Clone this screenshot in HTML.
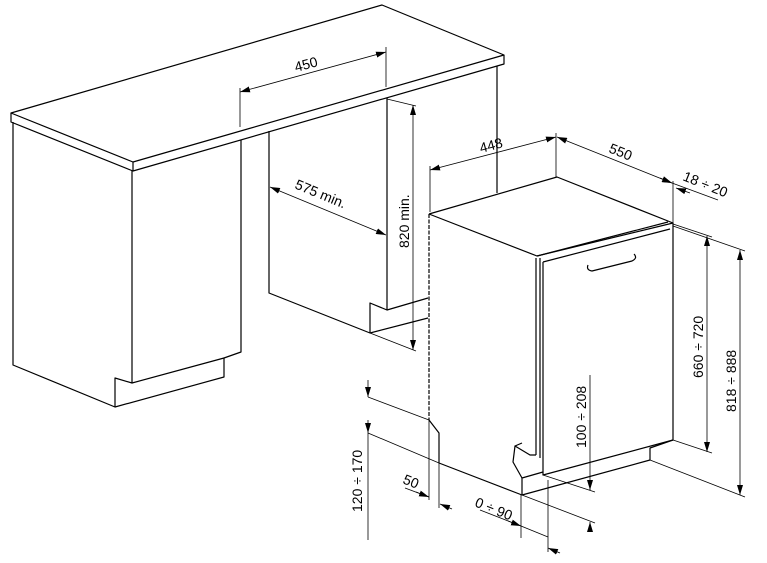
<!DOCTYPE html>
<html><head><meta charset="utf-8"><style>
html,body{margin:0;padding:0;background:#fff;width:767px;height:563px;overflow:hidden}
svg{display:block}
text{font-family:"Liberation Sans",sans-serif;font-size:14px;fill:#000}
</style></head><body>
<svg width="767" height="563" viewBox="0 0 767 563" xmlns="http://www.w3.org/2000/svg">
<defs>
<marker id="a" viewBox="0 0 10 6" refX="10" refY="3" markerWidth="10" markerHeight="6" orient="auto-start-reverse" markerUnits="userSpaceOnUse"><path d="M0,0L10,3L0,6z" fill="#000"/></marker>
</defs>
<g fill="none" stroke="#000" stroke-width="1.2" stroke-linejoin="round">
<path d="M11,113 L382,5 L504,55 L133,162 Z"/>
<path d="M133,162 L133,171 L504,64 L504,55"/>
<path d="M11,113 L11,122 L133,171"/>
<path d="M13,122 L13,365 L115,407 L115,378 L132,383 L132,171"/>
<path d="M115,407 L224,377 L224,358 L241,352 L241,140"/>
<path d="M132,383 L224,358"/>
<path d="M269,131 L269,293 L370,333 L370,303 L387,310 L387,98"/>
<path d="M387,310 L428,298"/>
<path d="M370,333 L428,318"/>
<path d="M497,66 L497,193"/>
<path d="M429,214 L557,177 L673,223 L673,440 L650,448 L650,460 L522,495 L439,463 L439,433 L429,420"/>
<path d="M429,214 L537,256 L673,223"/>
<path d="M429,214 L429,420" stroke-dasharray="4,1.5"/>
<path d="M536,258 L536,455 M540,258 L540,458"/>
<path d="M537,256 L668,222 M543,262 L670,229 M543,262 L543,475 L673,440"/>
<path d="M522,495 L522,478 L543,472"/>
<path d="M522,478 L513,462 L515,446 L530,455 L536,455"/>
<path d="M515,446 L522,443"/>
<path d="M588,265 Q586,270 592,271 L632,261 Q638,258 634,254"/>
</g>
<g fill="none" stroke="#000" stroke-width="0.8">
<path d="M240,127 L240,88 M386,87 L386,47"/>
<path d="M240,92 L386,52" marker-start="url(#a)" marker-end="url(#a)"/>
<path d="M270,187 L386,235" marker-start="url(#a)" marker-end="url(#a)"/>
<path d="M387,99 L416,106 M370,333 L416,351"/>
<path d="M413,105 L413,350" marker-start="url(#a)" marker-end="url(#a)"/>
<path d="M430,212 L430,166 M556,177 L556,133"/>
<path d="M430,170 L556,137" marker-start="url(#a)" marker-end="url(#a)"/>
<path d="M557,137 L672,183" marker-start="url(#a)" marker-end="url(#a)"/>
<path d="M673,223 L673,181"/>
<path d="M672,183 L718,200"/>
<path d="M660,178 L672,183" marker-end="url(#a)"/>
<path d="M690,193 L676,188" marker-end="url(#a)"/>
<path d="M673,224 L712,237 M673,440 L712,453"/>
<path d="M707,236 L707,452" marker-start="url(#a)" marker-end="url(#a)"/>
<path d="M673,226 L745,251 M650,460 L745,497"/>
<path d="M740,250 L740,495" marker-start="url(#a)" marker-end="url(#a)"/>
<path d="M590,375 L590,490" />
<path d="M590,480 L590,490" marker-end="url(#a)"/>
<path d="M590,532 L590,522" marker-end="url(#a)"/>
<path d="M543,475 L595,492 M522,495 L595,523"/>
<path d="M521,495 L521,538 M548,480 L548,552"/>
<path d="M480,510 L521,526" />
<path d="M508,521 L521,526" marker-end="url(#a)"/>
<path d="M560,553 L548,548" marker-end="url(#a)"/>
<path d="M521,526 L548,537" />
<path d="M429,420 L429,500 M439,463 L439,508"/>
<path d="M405,488 L429,497" />
<path d="M416,492 L429,497" marker-end="url(#a)"/>
<path d="M452,509 L440,504" marker-end="url(#a)"/>
<path d="M368,397 L429,420 M368,433 L439,463"/>
<path d="M368,380 L368,397" marker-end="url(#a)"/>
<path d="M368,433 L368,540" />
<path d="M368,420 L368,433" marker-end="url(#a)"/>
</g>
<text transform="translate(296,72) rotate(-15)">450</text>
<text transform="translate(294,188) rotate(22.5)">575 min.</text>
<text transform="translate(409,248) rotate(-90)">820 min.</text>
<text transform="translate(481,153) rotate(-15)">448</text>
<text transform="translate(608,152) rotate(22)">550</text>
<text transform="translate(682,180) rotate(22)">18 ÷ 20</text>
<text transform="translate(703,378) rotate(-90)">660 ÷ 720</text>
<text transform="translate(736,412) rotate(-90)">818 ÷ 888</text>
<text transform="translate(586,448) rotate(-90)">100 ÷ 208</text>
<text transform="translate(474,506) rotate(22)">0 ÷ 90</text>
<text transform="translate(402,483) rotate(22)">50</text>
<text transform="translate(362,512) rotate(-90)">120 ÷ 170</text>
</svg>
</body></html>
